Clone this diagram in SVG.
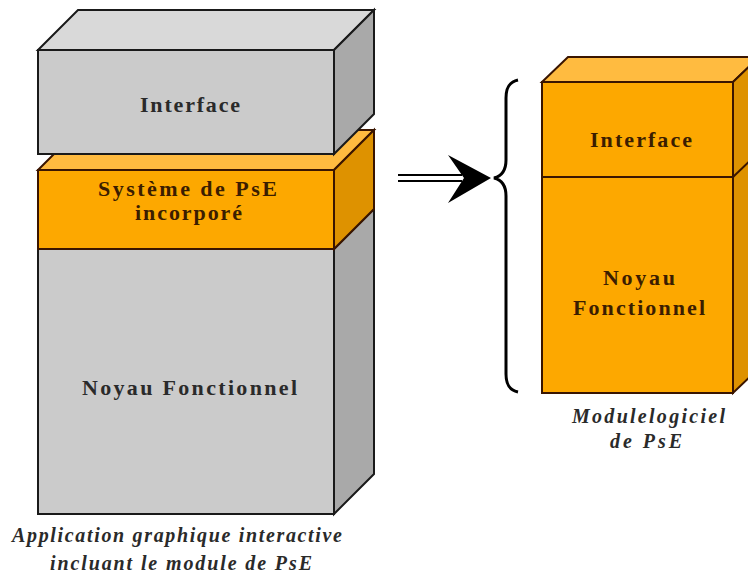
<svg xmlns="http://www.w3.org/2000/svg" width="748" height="577" viewBox="0 0 748 577">
<style>
.gf{fill:#cbcbcb;stroke:#1a1a1a;stroke-width:2;stroke-linejoin:miter}
.gt{fill:#d9d9d9;stroke:#1a1a1a;stroke-width:2}
.gs{fill:#a9a9a9;stroke:#1a1a1a;stroke-width:2}
.of{fill:#fda800;stroke:#3a1500;stroke-width:2}
.ot{fill:#ffbb40;stroke:#3a1500;stroke-width:2}
.os{fill:#de9200;stroke:#3a1500;stroke-width:2}
.lbl{font-family:"Liberation Serif","Times New Roman",serif;font-weight:bold;font-size:22px;text-anchor:start}
.lg{fill:#2a2a2a}
.lo{fill:#3b1d00}
.cap{font-family:"Liberation Serif","Times New Roman",serif;font-weight:bold;font-style:italic;font-size:20px;fill:#2a2a2a}
.conn{fill:none;stroke:#000}
</style>
<rect width="748" height="577" fill="#ffffff"/>
<g id="noyau-left">
<polygon class="gs" points="334,249 374,209 374,474 334,514"/>
<rect class="gf" x="38" y="249" width="296" height="265"/>
<text class="lbl lg" x="82" y="395" textLength="215" lengthAdjust="spacing">Noyau Fonctionnel</text>
</g>
<g id="pse-system">
<polygon class="ot" points="38,170 78,130 374,130 334,170"/>
<polygon class="os" points="334,170 374,130 374,209 334,249"/>
<rect class="of" x="38" y="170" width="296" height="79"/>
<text class="lbl lo" x="98" y="196" textLength="179" lengthAdjust="spacing">Système de PsE</text>
<text class="lbl lo" x="135" y="220" textLength="107" lengthAdjust="spacing">incorporé</text>
</g>
<g id="interface-left">
<polygon class="gt" points="38,50 78,10 374,10 334,50"/>
<polygon class="gs" points="334,50 374,10 374,114 334,154"/>
<rect class="gf" x="38" y="50" width="296" height="104"/>
<text class="lbl lg" x="140" y="112" textLength="100" lengthAdjust="spacing">Interface</text>
</g>
<g id="caption-left">
<text class="cap" x="12" y="542" textLength="330" lengthAdjust="spacing">Application graphique interactive</text>
<text class="cap" x="50" y="570" textLength="262" lengthAdjust="spacing">incluant le module de PsE</text>
</g>
<g id="module-pse">
<polygon class="ot" points="542,82 568,57 759,57 733,82"/>
<polygon class="os" points="733,82 759,57 759,368 733,393"/>
<rect class="of" x="542" y="82" width="191" height="311"/>
<line class="of" x1="542" y1="177" x2="733" y2="177"/>
<line class="of" x1="733" y1="177" x2="759" y2="152"/>
<text class="lbl lo" x="590" y="147" textLength="102" lengthAdjust="spacing">Interface</text>
<text class="lbl lo" x="603" y="285" textLength="72" lengthAdjust="spacing">Noyau</text>
<text class="lbl lo" x="573" y="315" textLength="132" lengthAdjust="spacing">Fonctionnel</text>
</g>
<g id="caption-right">
<text class="cap" x="572" y="423" textLength="153" lengthAdjust="spacing">Modulelogiciel</text>
<text class="cap" x="610" y="448" textLength="72" lengthAdjust="spacing">de PsE</text>
</g>
<g id="connectors">
<line class="conn" x1="398" y1="175" x2="462" y2="175" stroke-width="2"/>
<line class="conn" x1="398" y1="181" x2="462" y2="181" stroke-width="2"/>
<polygon points="491,178 448,155 464,178 448,203" fill="#000"/>
<path class="conn" stroke-width="3" d="M518,80 C509,82 506,88 506,98 L506,160 C506,170 502,176 494,178 C502,180 506,186 506,196 L506,374 C506,384 509,390 518,392"/>
</g>
</svg>
